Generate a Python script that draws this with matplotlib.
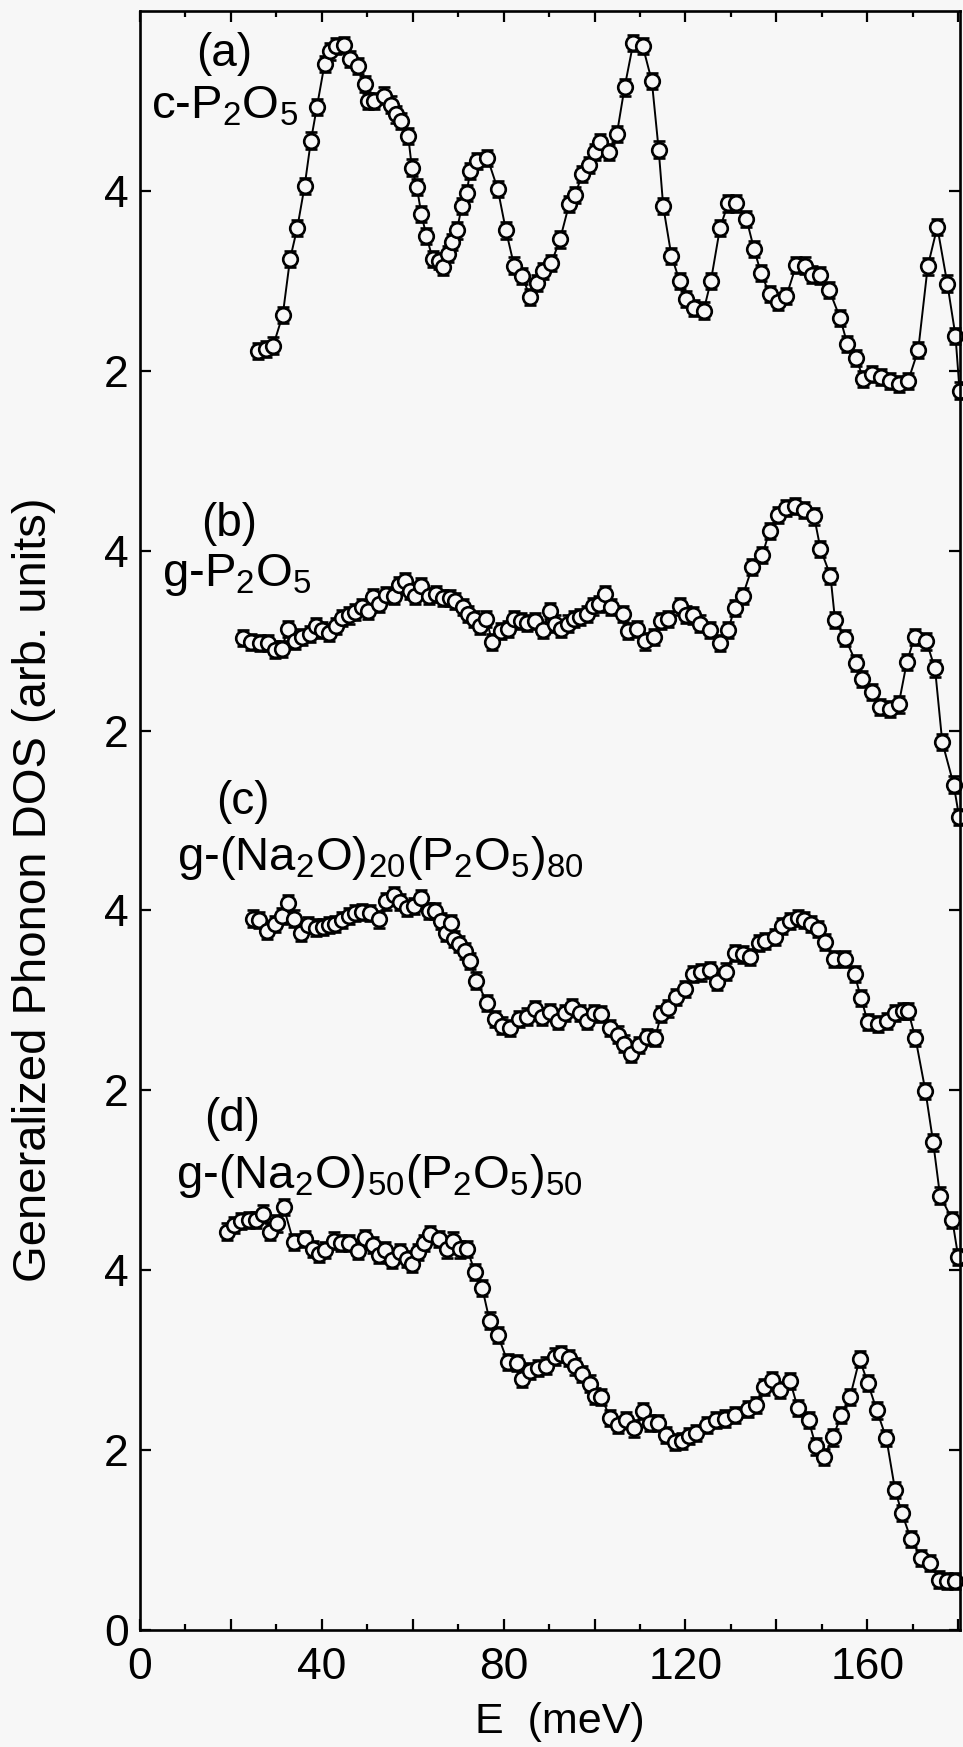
import matplotlib
matplotlib.use('Agg')
import numpy as np
import matplotlib.pyplot as plt
from matplotlib.ticker import MultipleLocator, FuncFormatter

plt.rcParams['font.family'] = ['Liberation Sans', 'DejaVu Sans']
plt.rcParams['mathtext.fontset'] = 'custom'
plt.rcParams['mathtext.rm'] = 'Liberation Sans'
plt.rcParams['mathtext.it'] = 'Liberation Sans:italic'
plt.rcParams['mathtext.bf'] = 'Liberation Sans:bold'

# (a) c-P2O5
e_a = [26.0, 27.7, 29.3, 31.4, 33.0, 34.6, 36.2, 37.6, 38.9, 40.6, 41.9, 43.2, 44.8, 46.2,
       48.0, 49.4, 50.1, 51.5, 53.7, 55.2, 56.4, 57.4, 59.0, 59.8, 60.9, 61.9, 63.0, 64.4,
       65.7, 66.7, 67.8, 68.7, 69.7, 70.8, 71.9, 72.6, 74.2, 76.4, 78.7, 80.5, 82.3, 84.1,
       85.8, 87.3, 88.7, 90.5, 92.4, 94.4, 95.7, 97.3, 98.7, 100.2, 101.2, 103.2, 104.9,
       106.6, 108.5, 110.6, 112.6, 114.1, 115.1, 116.9, 118.7, 120.1, 121.9, 124.0, 125.6,
       127.6, 129.4, 131.2, 133.4, 135.1, 136.6, 138.5, 140.4, 142.2, 144.4, 146.2, 147.9,
       149.7, 151.6, 154.0, 155.6, 157.6, 159.1, 161.0, 163.1, 165.1, 167.0, 169.0, 171.2,
       173.3, 175.4, 177.6, 179.4, 180.3]
dos_a = [2.22, 2.24, 2.28, 2.62, 3.24, 3.59, 4.05, 4.56, 4.93, 5.41, 5.55, 5.61, 5.62, 5.47,
         5.39, 5.19, 5.00, 5.00, 5.06, 4.96, 4.85, 4.78, 4.61, 4.26, 4.04, 3.74, 3.50, 3.24,
         3.22, 3.15, 3.30, 3.43, 3.56, 3.83, 3.98, 4.22, 4.33, 4.37, 4.02, 3.56, 3.17, 3.05,
         2.82, 2.98, 3.11, 3.20, 3.46, 3.85, 3.95, 4.19, 4.29, 4.43, 4.54, 4.43, 4.63,
         5.15, 5.64, 5.61, 5.22, 4.46, 3.83, 3.28, 3.00, 2.80, 2.70, 2.67, 3.00,
         3.59, 3.86, 3.86, 3.69, 3.35, 3.09, 2.85, 2.77, 2.83, 3.18, 3.17, 3.07,
         3.06, 2.90, 2.59, 2.30, 2.14, 1.91, 1.96, 1.93, 1.89, 1.85, 1.89, 2.23,
         3.16, 3.60, 2.97, 2.39, 1.78]

# (b) g-P2O5
e_b = [22.6, 24.4, 26.3, 28.2, 29.8, 31.2, 32.5, 34.1, 35.7, 37.3, 38.7, 40.0, 41.6, 43.2,
       44.5, 45.9, 47.3, 48.8, 50.1, 51.2, 52.6, 54.1, 55.8, 56.9, 58.2, 59.5, 60.5, 61.9,
       63.5, 65.1, 66.7, 68.3, 69.4, 71.0, 72.1, 73.4, 74.8, 76.2, 77.5, 79.4, 80.9, 82.3,
       83.9, 85.2, 86.9, 88.7, 90.1, 91.4, 92.7, 94.1, 95.4, 96.7, 98.3, 99.7, 101.0, 102.3,
       103.7, 106.2, 107.4, 109.4, 111.2, 113.0, 114.7, 116.2, 118.7, 120.1, 121.6, 123.3,
       125.4, 127.6, 129.4, 130.8, 132.6, 134.7, 136.9, 138.5, 140.3, 142.2, 144.1, 146.0,
       148.3, 149.7, 151.9, 152.9, 155.1, 157.6, 158.8, 161.0, 162.9, 165.0, 166.9, 168.7,
       170.4, 173.0, 174.9, 176.5, 179.0, 180.2]
dos_b = [3.03, 2.98, 2.97, 2.97, 2.90, 2.91, 3.13, 3.00, 3.04, 3.07, 3.16, 3.12, 3.09, 3.16,
         3.25, 3.28, 3.32, 3.37, 3.33, 3.48, 3.41, 3.51, 3.50, 3.62, 3.66, 3.55, 3.50, 3.61,
         3.50, 3.52, 3.47, 3.47, 3.44, 3.37, 3.30, 3.24, 3.16, 3.24, 2.98, 3.11, 3.13, 3.24,
         3.22, 3.20, 3.22, 3.12, 3.33, 3.19, 3.13, 3.19, 3.24, 3.26, 3.30, 3.38, 3.41, 3.52,
         3.37, 3.30, 3.11, 3.13, 2.99, 3.04, 3.22, 3.24, 3.38, 3.29, 3.28, 3.19,
         3.12, 2.97, 3.12, 3.36, 3.50, 3.82, 3.95, 4.22, 4.40, 4.47, 4.50, 4.45,
         4.38, 4.02, 3.72, 3.23, 3.03, 2.75, 2.57, 2.43, 2.26, 2.24, 2.29, 2.76,
         3.04, 2.99, 2.69, 1.87, 1.40, 1.04]

# (c) g-(Na2O)20(P2O5)80
e_c = [24.8, 26.1, 28.0, 29.8, 31.2, 32.5, 33.8, 35.5, 37.0, 38.7, 40.2, 41.6, 43.0, 44.5,
       45.9, 47.3, 48.8, 50.5, 52.6, 54.1, 55.8, 57.3, 58.7, 60.3, 61.9, 63.5, 64.8, 66.2,
       67.3, 68.4, 69.1, 70.2, 71.6, 72.6, 74.0, 76.4, 78.0, 79.6, 81.5, 83.3, 85.2, 86.9,
       88.4, 90.1, 91.9, 93.5, 95.1, 96.7, 98.3, 99.9, 101.5, 103.4, 105.1, 106.4, 108.0,
       109.8, 111.5, 113.3, 114.7, 116.2, 117.9, 119.8, 121.6, 123.5, 125.4, 126.9, 128.9,
       130.8, 132.6, 134.2, 136.1, 137.6, 139.6, 141.2, 143.0, 144.7, 146.0, 147.6, 149.2,
       150.8, 152.6, 155.1, 157.2, 158.6, 160.1, 162.3, 164.4, 166.1, 167.9, 169.0, 170.6,
       172.8, 174.5, 176.0, 178.7, 180.0]
dos_c = [3.91, 3.89, 3.77, 3.85, 3.94, 4.08, 3.91, 3.75, 3.84, 3.81, 3.82, 3.84, 3.85, 3.89,
         3.94, 3.97, 3.98, 3.97, 3.90, 4.10, 4.17, 4.09, 4.03, 4.05, 4.14, 3.99, 3.99, 3.88,
         3.75, 3.86, 3.68, 3.63, 3.55, 3.44, 3.22, 2.97, 2.79, 2.72, 2.69, 2.79, 2.82, 2.90,
         2.82, 2.87, 2.77, 2.86, 2.93, 2.86, 2.77, 2.86, 2.85, 2.69, 2.62, 2.52, 2.40,
         2.50, 2.59, 2.58, 2.85, 2.91, 3.04, 3.13, 3.29, 3.31, 3.34, 3.20, 3.32,
         3.53, 3.51, 3.48, 3.64, 3.66, 3.70, 3.83, 3.88, 3.92, 3.89, 3.85, 3.79,
         3.65, 3.46, 3.46, 3.29, 3.03, 2.76, 2.74, 2.77, 2.86, 2.88, 2.88, 2.58,
         1.99, 1.42, 0.83, 0.56, 0.15]

# (d) g-(Na2O)50(P2O5)50
e_d = [19.1, 20.7, 22.3, 23.9, 25.5, 27.1, 28.7, 30.1, 31.6, 33.8, 36.2, 38.0, 39.4, 40.8,
       42.7, 44.3, 45.9, 48.0, 49.6, 51.2, 52.6, 53.9, 55.5, 57.3, 58.7, 59.8, 61.2, 62.5,
       63.7, 65.7, 67.6, 68.9, 70.5, 71.9, 73.7, 75.3, 76.9, 78.7, 80.9, 83.0, 84.1, 85.8,
       87.6, 89.4, 91.2, 92.7, 94.4, 95.7, 97.3, 98.9, 100.0, 101.5, 103.4, 105.1, 106.9,
       108.7, 110.7, 112.3, 113.9, 115.8, 117.6, 119.2, 120.8, 122.4, 124.8, 126.7, 128.6,
       131.0, 133.7, 135.5, 137.2, 139.0, 140.9, 143.0, 144.7, 147.1, 148.7, 150.5, 152.4,
       154.3, 156.2, 158.3, 160.1, 162.1, 164.2, 166.1, 167.6, 169.6, 171.9, 173.8, 175.8,
       177.6, 179.4]
dos_d = [4.43, 4.50, 4.55, 4.56, 4.56, 4.63, 4.43, 4.52, 4.70, 4.31, 4.35, 4.24, 4.18, 4.22,
         4.33, 4.30, 4.30, 4.21, 4.36, 4.28, 4.17, 4.22, 4.11, 4.20, 4.12, 4.07, 4.20, 4.30,
         4.40, 4.35, 4.23, 4.33, 4.23, 4.24, 3.98, 3.80, 3.44, 3.28, 2.98, 2.97, 2.79, 2.88,
         2.91, 2.94, 3.04, 3.07, 3.02, 2.93, 2.85, 2.74, 2.60, 2.59, 2.36, 2.28, 2.33,
         2.24, 2.43, 2.30, 2.30, 2.17, 2.09, 2.10, 2.16, 2.19, 2.28, 2.33, 2.35,
         2.39, 2.46, 2.50, 2.70, 2.78, 2.67, 2.77, 2.47, 2.33, 2.04, 1.92, 2.14,
         2.39, 2.59, 3.01, 2.75, 2.44, 2.13, 1.56, 1.30, 1.01, 0.80, 0.74, 0.56,
         0.54, 0.54]

offsets = [12, 8, 4, 0]
dos_err = 0.09

panel_tags = ['(a)', '(b)', '(c)', '(d)']
panel_names = ['c-P$_2$O$_5$', 'g-P$_2$O$_5$',
               'g-(Na$_2$O)$_{20}$(P$_2$O$_5$)$_{80}$',
               'g-(Na$_2$O)$_{50}$(P$_2$O$_5$)$_{50}$']

ytick_vals = [0, 2, 4, 6, 8, 10, 12, 14, 16]
ytick_labels = ['0', '2', '4', '2', '4', '2', '4', '2', '4']

bg = '#f7f7f7'
fig = plt.figure(figsize=(9.63, 17.47), dpi=100, facecolor=bg)
ax = fig.add_axes([0.1454, 0.0670, 0.8515, 0.9267], facecolor=bg)

series = [(e_a, dos_a), (e_b, dos_b), (e_c, dos_c), (e_d, dos_d)]
for (e, d), off in zip(series, offsets):
    y = np.array(d) + off
    ax.errorbar(e, y, yerr=dos_err, fmt='-o', color='black', lw=1.4,
                ms=10.5, mfc=bg, mec='black', mew=1.9,
                ecolor='black', elinewidth=1.0, capsize=4, capthick=1.5,
                clip_on=False)

# panel labels
tag_pos = [(18.5, 17.52), (19.6, 12.3), (22.7, 9.2), (20.2, 5.68)]
name_pos = [(2.4, 16.8), (4.8, 11.61), (8.1, 8.45), (7.9, 4.91)]
for tag, (tx, ty) in zip(panel_tags, tag_pos):
    ax.text(tx, ty, tag, fontsize=33, ha='center', va='center')
for name, (nx, ny) in zip(panel_names, name_pos):
    ax.text(nx, ny, name, fontsize=34, ha='left', va='baseline')

ax.set_xlim(0, 180.4)
ax.set_ylim(0, 18)

ax.xaxis.set_major_locator(MultipleLocator(20))
ax.xaxis.set_minor_locator(MultipleLocator(10))
ax.xaxis.set_major_formatter(FuncFormatter(lambda v, p: '%d' % v if round(v) % 40 == 0 else ''))
ax.set_yticks(ytick_vals)
ax.set_yticklabels(ytick_labels)

ax.tick_params(which='both', direction='in', top=True, right=True, width=1.6)
ax.tick_params(which='major', length=8)
ax.tick_params(which='minor', length=4)
ax.tick_params(axis='x', which='major', labelsize=32, pad=12)
ax.tick_params(axis='y', which='major', labelsize=32, pad=8)
for s in ax.spines.values():
    s.set_linewidth(1.9)

ax.set_xlabel('E  (meV)', fontsize=31)
ax.xaxis.label.set_va('center')
ax.xaxis.set_label_coords(0.512, -0.0568)
ax.set_ylabel('Generalized Phonon DOS (arb. units)', fontsize=34)
ax.yaxis.label.set_va('center')
ax.yaxis.set_label_coords(-0.129, 0.457)

fig.savefig('out.png', dpi=100, facecolor=bg)
